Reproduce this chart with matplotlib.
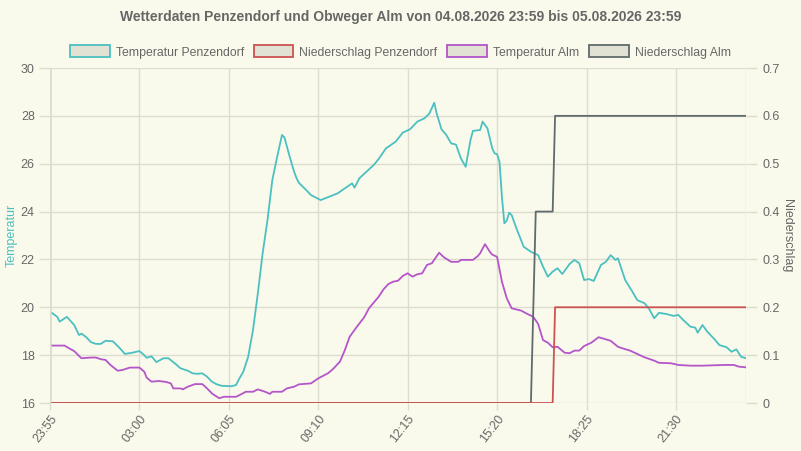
import matplotlib
matplotlib.use("Agg")
import matplotlib.pyplot as plt
from matplotlib.patches import Rectangle

plt.rcParams['font.family'] = ['Liberation Sans Narrow', 'Liberation Sans', 'DejaVu Sans']

TITLE = "Wetterdaten Penzendorf und Obweger Alm von 04.08.2026 23:59 bis 05.08.2026 23:59"
tick_labels = ["23:55", "03:00", "06:05", "09:10", "12:15", "15:20", "18:25", "21:30"]

# minutes after 00:00 on 05.08.2026
pz_temp_time = [0, 10, 15, 30, 45, 55, 60, 70, 80, 90, 100, 110, 125, 140, 150, 165, 180, 190, 195,
                205, 215, 230, 240, 255, 265, 280, 290, 300, 310, 320, 330, 340, 350, 370, 380, 385,
                395, 405, 415, 425, 435, 445, 455, 465, 475, 480, 490, 500, 505, 510, 525, 535, 555,
                570, 590, 605, 620, 625, 635, 650, 665, 675, 690, 710, 725, 740, 755, 770, 780, 790,
                795, 805, 815, 825, 835, 845, 855, 865, 870, 885, 890, 900, 910, 915, 920, 925, 930,
                935, 940, 945, 950, 960, 975, 990, 1005, 1015, 1025, 1035, 1045, 1055, 1070, 1080,
                1090, 1100, 1110, 1120, 1135, 1145, 1155, 1165, 1170, 1185, 1200, 1210, 1225, 1235,
                1245, 1255, 1270, 1285, 1295, 1305, 1320, 1330, 1335, 1345, 1355, 1370, 1380, 1395,
                1405, 1415, 1425, 1435]
pz_temp = [19.75, 19.6, 19.4, 19.6, 19.26, 18.84, 18.9, 18.75, 18.54, 18.47, 18.47, 18.6, 18.58, 18.28,
           18.05, 18.1, 18.17, 18.0, 17.89, 17.95, 17.71, 17.87, 17.87, 17.63, 17.45, 17.35, 17.24,
           17.22, 17.24, 17.1, 16.89, 16.78, 16.72, 16.7, 16.75, 16.96, 17.31, 17.93, 19.05, 20.58,
           22.26, 23.65, 25.32, 26.29, 27.2, 27.1, 26.36, 25.67, 25.4, 25.2, 24.9, 24.69, 24.48, 24.6,
           24.76, 24.97, 25.18, 25.0, 25.39, 25.67, 25.95, 26.2, 26.64, 26.92, 27.3, 27.44, 27.76,
           27.9, 28.1, 28.55, 28.1, 27.44, 27.2, 26.85, 26.8, 26.23, 25.87, 26.99, 27.37, 27.41,
           27.76, 27.48, 26.64, 26.43, 26.4, 26.08, 24.62, 23.51, 23.62, 23.95, 23.86, 23.3, 22.53,
           22.32, 22.18, 21.7, 21.28, 21.49, 21.63, 21.39, 21.81, 21.98, 21.84, 21.14, 21.18, 21.1,
           21.77, 21.9, 22.18, 21.98, 22.05, 21.14, 20.65, 20.3, 20.17, 19.92, 19.54, 19.77, 19.72,
           19.64, 19.68, 19.47, 19.19, 19.15, 18.94, 19.26, 18.98, 18.66, 18.42, 18.33, 18.14, 18.24,
           17.93, 17.87]

alm_temp_time = [0, 25, 35, 45, 60, 80, 90, 100, 110, 120, 135, 145, 160, 180, 190, 195, 205, 220, 235,
                 245, 250, 265, 270, 280, 295, 310, 320, 330, 345, 355, 380, 390, 400, 415, 425, 440,
                 450, 455, 475, 485, 500, 510, 535, 550, 570, 580, 595, 605, 615, 630, 645, 655, 675,
                 685, 695, 705, 715, 725, 735, 745, 755, 765, 775, 785, 800, 810, 825, 840, 845, 870,
                 880, 885, 895, 905, 910, 920, 930, 940, 950, 970, 980, 995, 1005, 1015, 1025, 1035,
                 1045, 1060, 1070, 1080, 1090, 1100, 1115, 1130, 1145, 1155, 1170, 1180, 1195, 1210,
                 1225, 1245, 1255, 1280, 1295, 1320, 1345, 1390, 1410, 1420, 1435]
alm_temp = [18.4, 18.4, 18.28, 18.17, 17.87, 17.9, 17.9, 17.83, 17.8, 17.59, 17.35, 17.38, 17.48, 17.48,
            17.31, 17.06, 16.89, 16.92, 16.88, 16.82, 16.61, 16.61, 16.57, 16.68, 16.79, 16.79, 16.61,
            16.4, 16.2, 16.26, 16.26, 16.36, 16.47, 16.47, 16.57, 16.47, 16.38, 16.47, 16.47, 16.61,
            16.68, 16.78, 16.82, 17.03, 17.24, 17.41, 17.73, 18.21, 18.77, 19.19, 19.58, 19.96, 20.44,
            20.75, 20.97, 21.07, 21.11, 21.31, 21.42, 21.28, 21.38, 21.42, 21.77, 21.84, 22.28, 22.09,
            21.9, 21.9, 21.98, 21.98, 22.14, 22.26, 22.64, 22.32, 22.2, 22.11, 21.07, 20.38, 19.96,
            19.86, 19.75, 19.6, 19.3, 18.63, 18.52, 18.33, 18.35, 18.1, 18.08, 18.19, 18.19, 18.38,
            18.52, 18.75, 18.66, 18.6, 18.35, 18.28, 18.19, 18.05, 17.91, 17.77, 17.68, 17.66, 17.59,
            17.56, 17.56, 17.59, 17.59, 17.52, 17.49]

pz_rain_time = [0, 1035, 1040, 1435]
pz_rain = [0.0, 0.0, 0.2, 0.2]
alm_rain_time = [0, 990, 1000, 1035, 1040, 1435]
alm_rain = [0.0, 0.0, 0.4, 0.4, 0.6, 0.6]

# axis starts at 23:55 (5 minutes before 00:00)
AXIS_OFFSET = 5

C_TEAL = "#4bc0c0"
C_RED = "#cd5252"
C_PURPLE = "#b455c8"
C_GREY = "#5f6b6b"
BG = "#fafaec"
GRID = "#dcdccf"
TXT = "#666666"

fig = plt.figure(figsize=(8.01, 4.51), dpi=100, facecolor=BG)
ax = fig.add_axes([50 / 801, 48 / 451, 696 / 801, 335 / 451], facecolor=BG)
ax2 = ax.twinx()

def shift(ts):
    return [t + AXIS_OFFSET for t in ts]

ax.plot(shift(pz_temp_time), pz_temp, color=C_TEAL, lw=1.3, zorder=3)
ax.plot(shift(alm_temp_time), alm_temp, color=C_PURPLE, lw=1.3, zorder=3)
ax2.plot(shift(alm_rain_time), alm_rain, color=C_GREY, lw=1.3, zorder=3)
ax2.plot(shift(pz_rain_time), pz_rain, color=C_RED, lw=1.3, zorder=4)

ax.set_xlim(0, 1440)
ax.set_ylim(16, 30)
ax2.set_ylim(0, 0.7)
ax.set_yticks(range(16, 31, 2))
ax2.set_yticks([i / 10 for i in range(8)])
ax2.set_yticklabels(["0"] + [f"{i/10:.1f}" for i in range(1, 8)])
ax.set_xticks([i * 185 for i in range(len(tick_labels))])
ax.set_xticklabels(tick_labels, rotation=52, ha="right", va="top", rotation_mode="anchor")

ax.grid(True, color=GRID, lw=1.0, zorder=0)
for a in (ax, ax2):
    for s in a.spines.values():
        s.set_visible(False)
    a.tick_params(colors=GRID, labelcolor=TXT, labelsize=9, length=8, width=1.0)
ax.tick_params(axis="y", pad=3)
ax2.tick_params(axis="y", pad=4)
ax.tick_params(axis="x", pad=2, length=5)
ax.axvline(0, color=GRID, lw=2.0, zorder=1)
ax.axvline(1440, color=GRID, lw=1.0, zorder=1)

ax.set_ylabel("Temperatur", color=C_TEAL, fontsize=9, labelpad=2)
ax2.set_ylabel("Niederschlag", color=TXT, fontsize=9, rotation=-90, labelpad=9)

fig.suptitle(TITLE, x=0.5, y=1 - 17 / 451, va="center", fontsize=10, fontweight="bold", color=TXT)

handles = [Rectangle((0, 0), 1, 1, facecolor="#e1e1d4", edgecolor=c, lw=1.3)
           for c in (C_TEAL, C_RED, C_PURPLE, C_GREY)]
labels = ["Temperatur Penzendorf", "Niederschlag Penzendorf", "Temperatur Alm", "Niederschlag Alm"]
fig.legend(handles, labels, loc="center", bbox_to_anchor=(0.5, 1 - 52 / 451), ncol=4, frameon=False,
           fontsize=8.8, labelcolor=TXT, handlelength=3.25, handleheight=1.1, handletextpad=0.5,
           columnspacing=0.8)

fig.savefig("out.png", dpi=100, facecolor=BG)
